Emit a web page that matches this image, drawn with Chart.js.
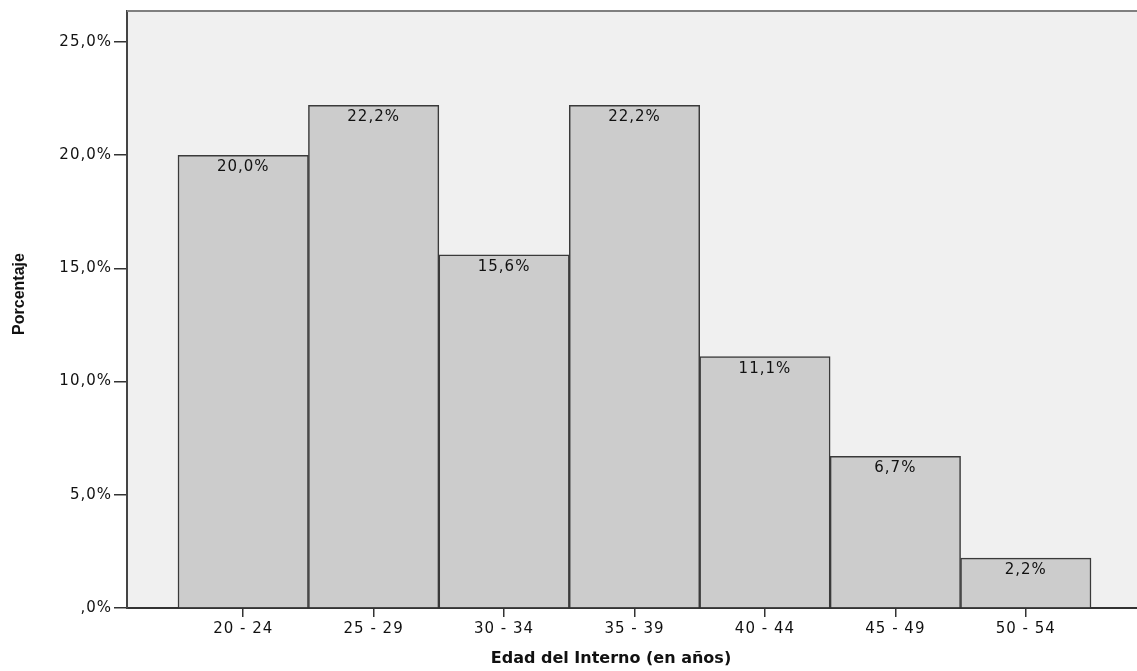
<!DOCTYPE html>
<html>
<head>
<meta charset="utf-8">
<script src="https://cdn.jsdelivr.net/npm/chart.js@4.4.1/dist/chart.umd.min.js"></script>
<style>
  html, body { margin: 0; padding: 0; background: #fff; overflow: hidden; }
  #wrap { width: 1145px; height: 671px; }
</style>
</head>
<body>
<div id="wrap"><canvas id="grafico" width="1145" height="671"></canvas></div>
<script>
// datos
const categorias = ["20 - 24", "25 - 29", "30 - 34", "35 - 39", "40 - 44", "45 - 49", "50 - 54"];
const porcentajes = [20.0, 22.2, 15.6, 22.2, 11.1, 6.7, 2.2];
const ticksY = [0, 5, 10, 15, 20, 25];

function fmt(v) {
  // formato SPSS: ,0% para cero
  let s = v.toFixed(1).replace(".", ",");
  if (s.startsWith("0,")) s = s.substring(1);
  return s + "%";
}

const fuente = "'DejaVu Sans', Verdana, sans-serif";

const extras = {
  id: "extras",
  beforeDraw(chart) {
    const { ctx, chartArea: a } = chart;
    // texto algo espaciado como en SPSS
    ctx.letterSpacing = "1px";
    ctx.save();
    ctx.fillStyle = "#f0f0f0";
    ctx.fillRect(a.left, a.top, a.right - a.left, a.bottom - a.top);
    ctx.restore();
  },
  afterDraw(chart) {
    const { ctx, chartArea: a } = chart;
    ctx.save();
    // borde superior
    ctx.strokeStyle = "#808080";
    ctx.lineWidth = 2;
    ctx.beginPath();
    ctx.moveTo(a.left, a.top);
    ctx.lineTo(a.right, a.top);
    ctx.stroke();

    // etiquetas dentro de las barras
    const meta = chart.getDatasetMeta(0);
    ctx.fillStyle = "#111";
    ctx.font = "15px " + fuente;
    ctx.textAlign = "center";
    ctx.textBaseline = "middle";
    meta.data.forEach((bar, i) => {
      ctx.fillText(fmt(porcentajes[i]), bar.x, bar.y + 12);
    });
    ctx.restore();

    // titulos de ejes
    ctx.save();
    ctx.letterSpacing = "0px";
    ctx.fillStyle = "#111";
    ctx.textAlign = "center";
    ctx.textBaseline = "middle";
    ctx.font = "bold 16px 'Liberation Sans Narrow', 'Liberation Sans', Arial, sans-serif";
    ctx.translate(20, 294);
    ctx.rotate(-Math.PI / 2);
    ctx.fillText("Porcentaje", 0, 0);
    ctx.restore();

    ctx.save();
    ctx.letterSpacing = "0px";
    ctx.fillStyle = "#111";
    ctx.font = "bold 16px " + fuente;
    ctx.textAlign = "center";
    ctx.textBaseline = "middle";
    ctx.fillText("Edad del Interno (en años)", 611, 659);
    ctx.restore();
  }
};

new Chart(document.getElementById("grafico"), {
  type: "bar",
  data: {
    datasets: [{
      data: porcentajes.map((v, i) => ({ x: i, y: v })),
      backgroundColor: "#cccccc",
      borderColor: "#3a3a3a",
      borderWidth: 1.5,
      barPercentage: 1,
      categoryPercentage: 1,
    }],
  },
  options: {
    responsive: false,
    animation: false,
    layout: { padding: { top: 11, right: 3, left: 0, bottom: 0 } },
    plugins: { legend: { display: false }, tooltip: { enabled: false } },
    scales: {
      x: {
        type: "linear",
        offset: false,
        min: -0.891,
        max: 6.891,
        afterBuildTicks(scale) {
          scale.ticks = categorias.map((c, i) => ({ value: i }));
        },
        afterFit(scale) { scale.height = 63; },
        grid: { offset: false, drawOnChartArea: false, tickLength: 9, color: "#333", lineWidth: 1.5 },
        border: { color: "#333", width: 2 },
        ticks: {
          color: "#111",
          font: { family: fuente, size: 15 },
          padding: 3,
          maxRotation: 0,
          callback: (v) => categorias[v] ?? "",
        },
      },
      y: {
        min: 0,
        max: 26.37,
        afterBuildTicks(scale) {
          scale.ticks = ticksY.map((v) => ({ value: v }));
        },
        afterFit(scale) { scale.width = 127; },
        grid: { drawOnChartArea: false, tickLength: 13, color: "#333", lineWidth: 1.5 },
        border: { color: "#444", width: 2 },
        ticks: {
          color: "#111",
          font: { family: fuente, size: 15 },
          padding: 2,
          callback: (v) => fmt(v),
        },
      },
    },
  },
  plugins: [extras],
});
</script>
</body>
</html>
